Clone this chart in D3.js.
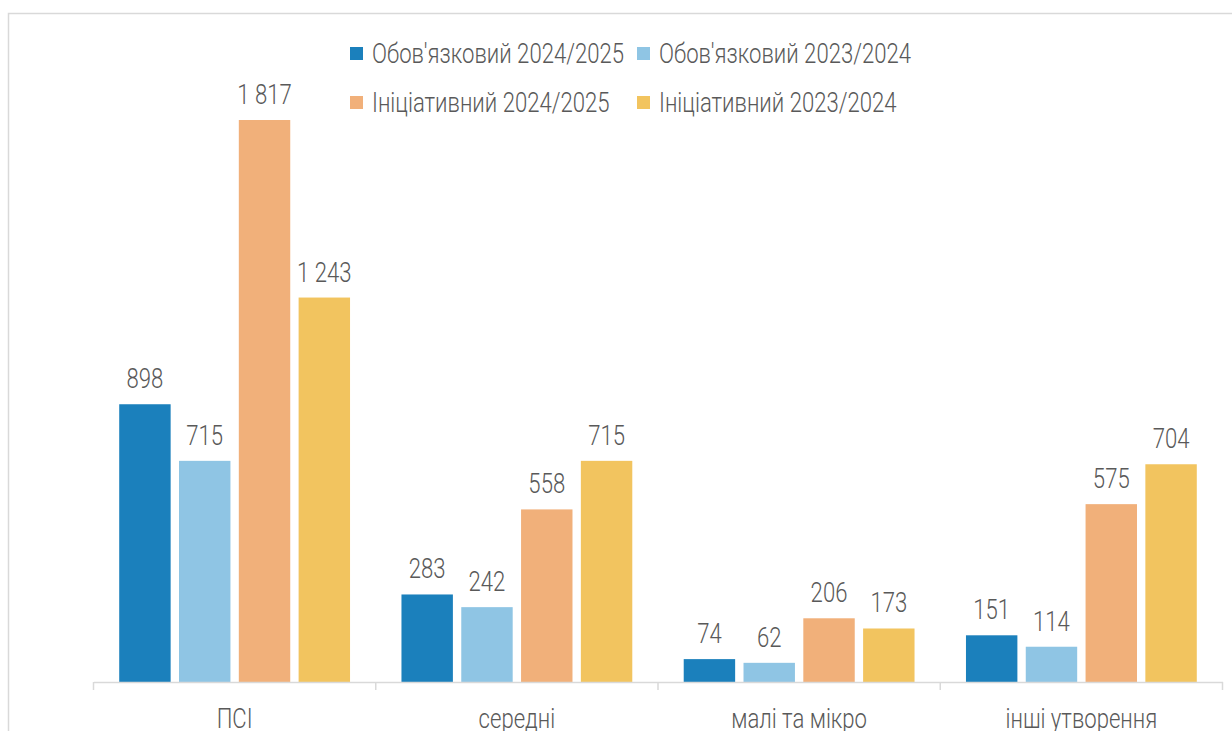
<!DOCTYPE html>
<html>
<head>
<meta charset="utf-8">
<script src="https://cdn.jsdelivr.net/npm/d3@7"></script>
<style>
  body { margin: 0; background: #fff; }
  svg text { font-family: Roboto, "Liberation Sans", sans-serif; font-weight: 300; fill: #595959; }
</style>
</head>
<body>
<svg id="chart" width="1232" height="731"></svg>
<script>
var categories = ["ПСІ", "середні", "малі та мікро", "інші утворення"];
var seriesNames = ["Обов'язковий 2024/2025", "Обов'язковий 2023/2024", "Ініціативний 2024/2025", "Ініціативний 2023/2024"];
var seriesColors = ["#1b80bc", "#8fc5e4", "#f1b07a", "#f2c45f"];
var mandatory2425 = [898, 283, 74, 151];
var mandatory2324 = [715, 242, 62, 114];
var initiative2425 = [1817, 558, 206, 575];
var initiative2324 = [1243, 715, 173, 704];

var seriesValues = [mandatory2425, mandatory2324, initiative2425, initiative2324];

var data = [];
categories.forEach(function(c, i){
  seriesNames.forEach(function(s, j){
    data.push({cat: c, series: s, value: seriesValues[j][i], color: seriesColors[j]});
  });
});

var narrow = "scale(0.82,1)"; // condensed look
var fontSize = "27px";

var svg = d3.select("#chart");
var fmt = function(v){ return d3.format(",")(v).replace(/,/g, " "); };

// frame (cropped on right and bottom)
svg.append("rect")
  .attr("x", 8.5).attr("y", 13.5)
  .attr("width", 1300).attr("height", 800)
  .attr("fill", "none")
  .attr("stroke", "#d9d9d9")
  .attr("stroke-width", 1.5);

var x0 = d3.scaleBand().domain(categories).range([93.5, 1222.5]).padding(0);
var x1 = d3.scaleBand().domain(seriesNames).range([0, x0.bandwidth()])
  .paddingInner(0.14).paddingOuter(0.43);
var y = d3.scaleLinear().domain([0, d3.max(data, function(d){return d.value;})]).range([682, 120]);

var bars = svg.append("g");
bars.selectAll("rect")
  .data(data)
  .enter()
  .append("rect")
    .attr("x", function(d){return x0(d.cat) + x1(d.series);})
    .attr("y", function(d){return y(d.value);})
    .attr("width", x1.bandwidth())
    .attr("height", function(d){return y(0) - y(d.value);})
    .attr("fill", function(d){return d.color;});

bars.selectAll("text")
  .data(data)
  .enter()
  .append("text")
    .attr("transform", function(d){
      return "translate(" + (x0(d.cat) + x1(d.series) + x1.bandwidth()/2) + "," + (y(d.value) - 16) + ") " + narrow;
    })
    .attr("text-anchor", "middle")
    .style("font-size", fontSize)
    .text(function(d){return fmt(d.value);});

// axis
var axis = d3.axisBottom(x0).tickSize(0).tickPadding(0);
var gx = svg.append("g").attr("transform", "translate(0,682)").call(axis);
gx.select(".domain").attr("stroke", "#d9d9d9").attr("stroke-width", 1.5);
gx.selectAll(".tick text")
  .attr("y", 0).attr("dy", 0)
  .attr("transform", "translate(0,46) " + narrow)
  .style("font-size", fontSize).attr("fill", "#595959");
var bounds = categories.map(function(c){return x0(c);}).concat([x0.range()[1]]);
gx.selectAll(".sep").data(bounds).enter().append("line")
  .attr("x1", function(d){return d;}).attr("x2", function(d){return d;})
  .attr("y1", 0).attr("y2", 8)
  .attr("stroke", "#d9d9d9").attr("stroke-width", 1.5);

// legend
var legend = svg.append("g").attr("transform", "translate(350,0)");
var items = legend.selectAll("g")
  .data(seriesNames)
  .enter()
  .append("g")
    .attr("transform", function(d, i){return "translate(" + (i % 2) * 287 + "," + (Math.floor(i / 2) * 49 + 47) + ")";});
items.append("rect")
  .attr("width", 13).attr("height", 13)
  .attr("fill", function(d, i){return seriesColors[i];});
items.append("text")
  .attr("transform", "translate(22,16) " + narrow)
  .style("font-size", fontSize)
  .text(function(d){return d;});
</script>
</body>
</html>
